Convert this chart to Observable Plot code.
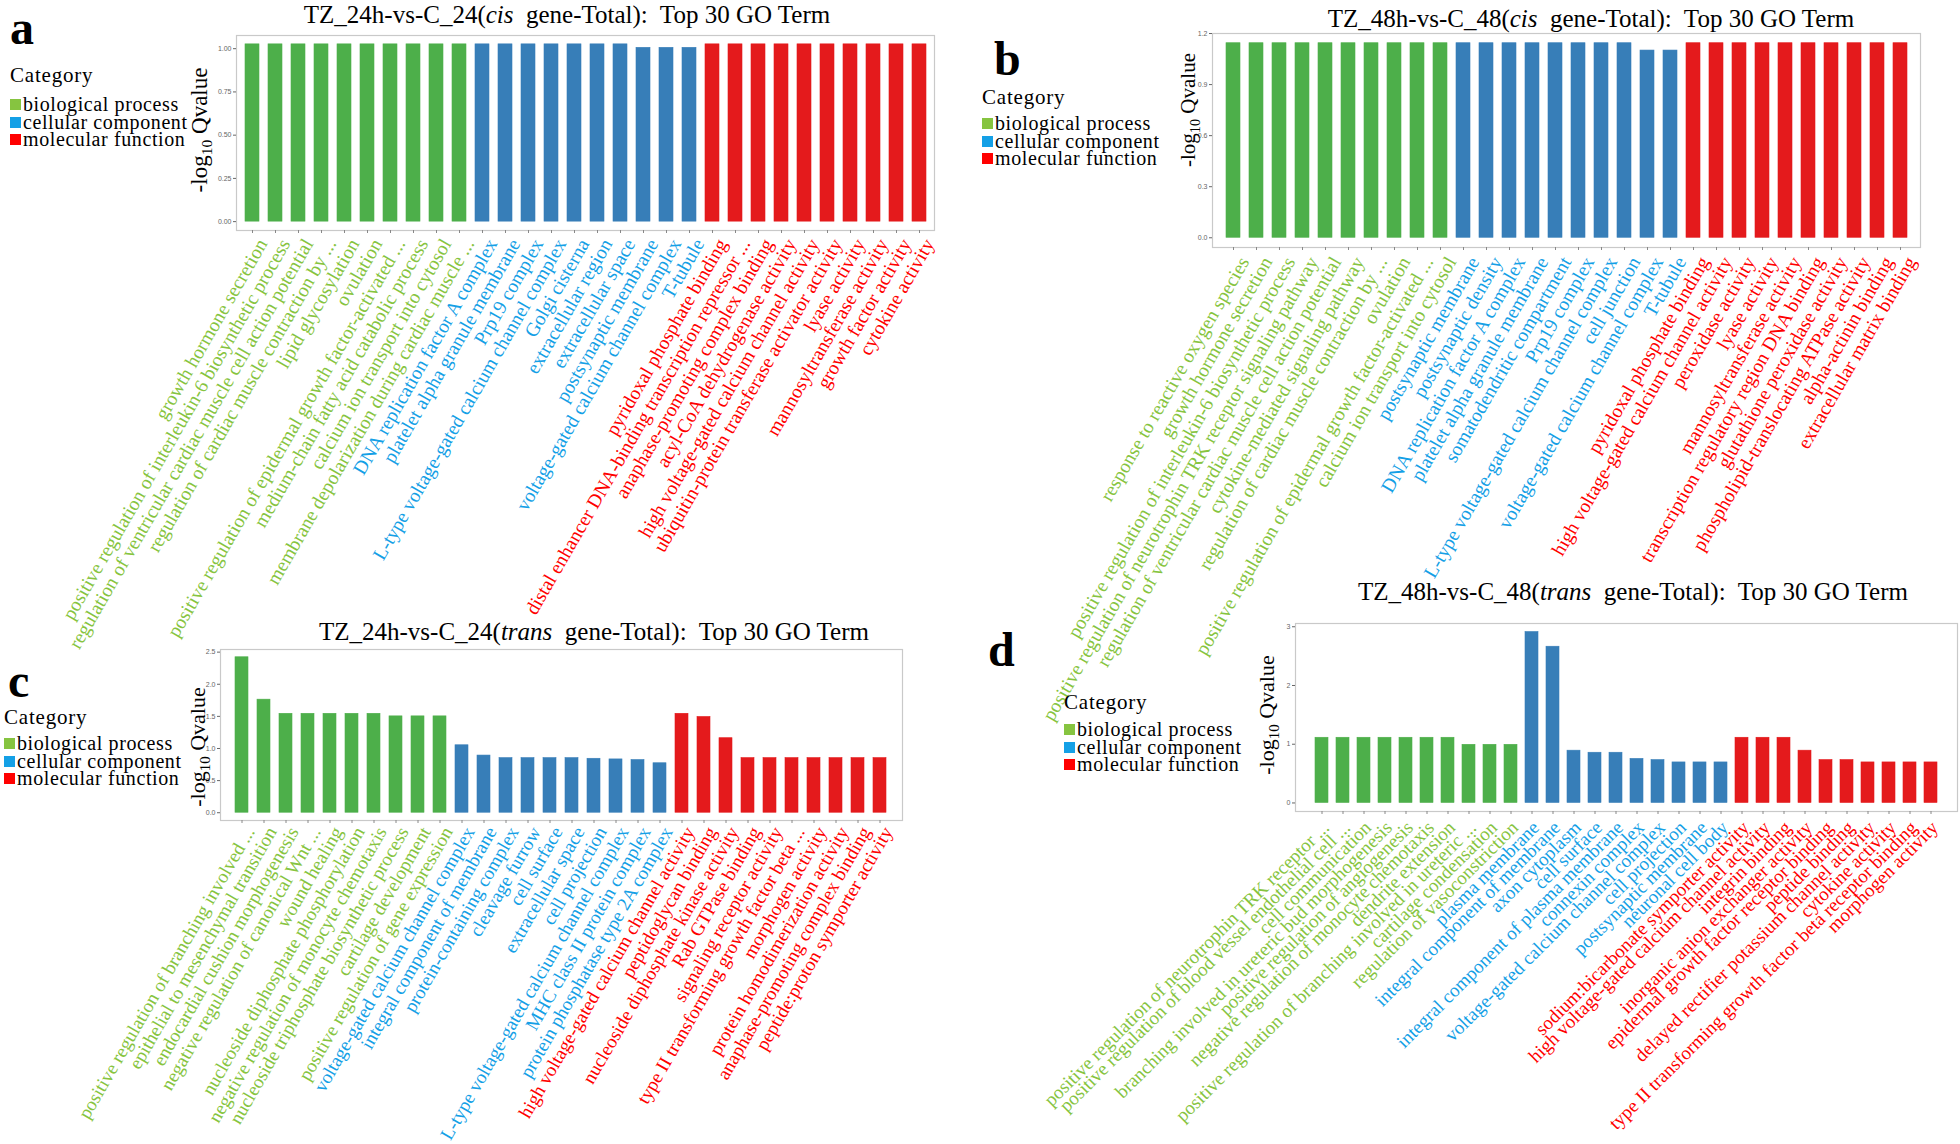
<!DOCTYPE html>
<html><head><meta charset="utf-8">
<script src="https://cdn.jsdelivr.net/npm/d3@7"></script>
<script src="https://cdn.jsdelivr.net/npm/@observablehq/plot@0.6"></script>
<style>
body{margin:0;background:#fff;}
#root{position:relative;width:1960px;height:1144px;overflow:hidden;background:#fff;}
</style></head>
<body><div id="root"></div>
<script>
// ---------- data ----------
const categories = ["biological process", "cellular component", "molecular function"];
const barColors = ["#4DAF4A", "#377EB8", "#E41A1C"];
const labelColors = ["#86C440", "#14A0E6", "#FF0000"];

// Panel a: TZ_24h-vs-C_24 (cis)
const a_bp = ["growth hormone secretion","positive regulation of interleukin-6 biosynthetic process","regulation of ventricular cardiac muscle cell action potential","regulation of cardiac muscle contraction by ...","lipid glycosylation","ovulation","positive regulation of epidermal growth factor-activated ...","medium-chain fatty acid catabolic process","calcium ion transport into cytosol","membrane depolarization during cardiac muscle ..."];
const a_cc = ["DNA replication factor A complex","platelet alpha granule membrane","Prp19 complex","L-type voltage-gated calcium channel complex","Golgi cisterna","extracellular region","extracellular space","postsynaptic membrane","voltage-gated calcium channel complex","T-tubule"];
const a_mf = ["pyridoxal phosphate binding","distal enhancer DNA-binding transcription repressor ...","anaphase-promoting complex binding","acyl-CoA dehydrogenase activity","high voltage-gated calcium channel activity","ubiquitin-protein transferase activator activity","lyase activity","mannosyltransferase activity","growth factor activity","cytokine activity"];
const a_bpV = [1.025,1.025,1.025,1.025,1.025,1.025,1.025,1.025,1.025,1.025];
const a_ccV = [1.025,1.025,1.025,1.025,1.025,1.025,1.025,1.005,1.005,1.005];
const a_mfV = [1.025,1.025,1.025,1.025,1.025,1.025,1.025,1.025,1.025,1.025];
const a_ticks = [0, 0.25, 0.5, 0.75, 1.0];

// Panel b: TZ_48h-vs-C_48 (cis)
const b_bp = ["response to reactive oxygen species","growth hormone secretion","positive regulation of interleukin-6 biosynthetic process","positive regulation of neurotrophin TRK receptor signaling pathway","regulation of ventricular cardiac muscle cell action potential","cytokine-mediated signaling pathway","regulation of cardiac muscle contraction by ...","ovulation","positive regulation of epidermal growth factor-activated ...","calcium ion transport into cytosol"];
const b_cc = ["postsynaptic membrane","postsynaptic density","DNA replication factor A complex","platelet alpha granule membrane","somatodendritic compartment","Prp19 complex","L-type voltage-gated calcium channel complex","cell junction","voltage-gated calcium channel complex","T-tubule"];
const b_mf = ["pyridoxal phosphate binding","high voltage-gated calcium channel activity","peroxidase activity","lyase activity","mannosyltransferase activity","transcription regulatory region DNA binding","glutathione peroxidase activity","phospholipid-translocating ATPase activity","alpha-actinin binding","extracellular matrix binding"];
const b_bpV = [1.143,1.143,1.143,1.143,1.143,1.143,1.143,1.143,1.143,1.143];
const b_ccV = [1.143,1.143,1.143,1.143,1.143,1.143,1.143,1.143,1.10,1.10];
const b_mfV = [1.143,1.143,1.143,1.143,1.143,1.143,1.143,1.143,1.143,1.143];
const b_ticks = [0, 0.3, 0.6, 0.9, 1.2];

// Panel c: TZ_24h-vs-C_24 (trans)
const c_bp = ["positive regulation of branching involved ...","epithelial to mesenchymal transition","endocardial cushion morphogenesis","negative regulation of canonical Wnt ...","wound healing","nucleoside diphosphate phosphorylation","negative regulation of monocyte chemotaxis","nucleoside triphosphate biosynthetic process","cartilage development","positive regulation of gene expression"];
const c_cc = ["voltage-gated calcium channel complex","integral component of membrane","protein-containing complex","cleavage furrow","cell surface","extracellular space","cell projection","L-type voltage-gated calcium channel complex","MHC class II protein complex","protein phosphatase type 2A complex"];
const c_mf = ["high voltage-gated calcium channel activity","peptidoglycan binding","nucleoside diphosphate kinase activity","Rab GTPase binding","signaling receptor activity","type II transforming growth factor beta ...","morphogen activity","protein homodimerization activity","anaphase-promoting complex binding","peptide:proton symporter activity"];
const c_bpV = [2.42,1.76,1.54,1.54,1.54,1.54,1.54,1.50,1.50,1.50];
const c_ccV = [1.05,0.89,0.85,0.85,0.85,0.85,0.84,0.83,0.82,0.77];
const c_mfV = [1.54,1.49,1.16,0.85,0.85,0.85,0.85,0.85,0.85,0.85];
const c_ticks = [0, 0.5, 1.0, 1.5, 2.0, 2.5];

// Panel d: TZ_48h-vs-C_48 (trans)
const d_bp = ["positive regulation of neurotrophin TRK receptor ...","positive regulation of blood vessel endothelial cell ...","cell communication","branching involved in ureteric bud morphogenesis","positive regulation of angiogenesis","negative regulation of monocyte chemotaxis","dendrite extension","positive regulation of branching involved in ureteric ...","cartilage condensation","regulation of vasoconstriction"];
const d_cc = ["plasma membrane","integral component of membrane","axon cytoplasm","cell surface","integral component of plasma membrane","connexin complex","voltage-gated calcium channel complex","cell projection","postsynaptic membrane","neuronal cell body"];
const d_mf = ["sodium:bicarbonate symporter activity","high voltage-gated calcium channel activity","integrin binding","inorganic anion exchanger activity","epidermal growth factor receptor binding","peptide binding","delayed rectifier potassium channel activity","cytokine activity","type II transforming growth factor beta receptor binding","morphogen activity"];
const d_bpV = [1.11,1.11,1.11,1.11,1.11,1.11,1.11,0.99,0.99,0.99];
const d_ccV = [2.91,2.66,0.89,0.855,0.855,0.75,0.73,0.69,0.69,0.69];
const d_mfV = [1.11,1.11,1.11,0.89,0.73,0.73,0.69,0.69,0.69,0.69];
const d_ticks = [0, 1, 2, 3];

const titles = [
  ["TZ_24h-vs-C_24(", "cis", "  gene-Total):  Top 30 GO Term"],
  ["TZ_48h-vs-C_48(", "cis", "  gene-Total):  Top 30 GO Term"],
  ["TZ_24h-vs-C_24(", "trans", "  gene-Total):  Top 30 GO Term"],
  ["TZ_48h-vs-C_48(", "trans", "  gene-Total):  Top 30 GO Term"]
];
const panelLetters = ["a", "b", "c", "d"];

// ---------- layout ----------
const W = 1960, H = 1144;
const root = document.getElementById("root");
const serif = "'Liberation Serif','Times New Roman',serif";

function buildTable(groups) {
  const rows = [];
  groups.forEach(([ci, terms, vals]) => terms.forEach((t, i) => rows.push({term: t, value: vals[i], cat: ci})));
  return rows;
}

function panel(cfg) {
  const data = buildTable(cfg.groups);
  const max = d3.max(data, d => d.value);
  const pad = max * 0.05;
  const [fl, fr, ft, fb] = cfg.frame;
  const svg = Plot.plot({
    width: W, height: H,
    marginLeft: fl, marginRight: W - fr, marginTop: ft, marginBottom: H - fb,
    style: {background: "transparent", position: "absolute", left: "0px", top: "0px", overflow: "visible", maxWidth: "none", fontFamily: "Arial, sans-serif"},
    x: {domain: data.map(d => d.term), paddingInner: 0.4, paddingOuter: 0.3},
    y: {domain: [-pad, max + pad]},
    color: {type: "identity"},
    marks: [
      Plot.barY(data, {x: "term", y: "value", fill: d => barColors[d.cat], stroke: d => barColors[d.cat], strokeWidth: 0.6}),
      Plot.frame({stroke: "#c9c9c9", strokeWidth: 1.2}),
      Plot.axisY({ticks: cfg.ticks, tickFormat: cfg.fmt, tickSize: 3, tickPadding: 2, fontSize: 7, color: "#666", label: null}),
      Plot.axisX({tickSize: 3, tickFormat: () => "", color: "#888", label: null}),
      Plot.text(data, {x: "term", frameAnchor: "bottom", text: "term", rotate: -cfg.angle, textAnchor: "end", lineAnchor: "middle",
        dx: cfg.dx, dy: cfg.dy, fill: d => labelColors[d.cat], fontSize: cfg.fs, fontFamily: serif})
    ]
  });
  root.appendChild(svg);
}

panel({groups: [[0, a_bp, a_bpV], [1, a_cc, a_ccV], [2, a_mf, a_mfV]], frame: [236, 934, 35, 230], ticks: a_ticks, fmt: d3.format(".2f"), angle: 60, dx: 10, dy: 10, fs: 19.5});
panel({groups: [[0, b_bp, b_bpV], [1, b_cc, b_ccV], [2, b_mf, b_mfV]], frame: [1212, 1920, 33, 247], ticks: b_ticks, fmt: d3.format(".1f"), angle: 60, dx: 11, dy: 11, fs: 19.5});
panel({groups: [[0, c_bp, c_bpV], [1, c_cc, c_ccV], [2, c_mf, c_mfV]], frame: [220, 902, 649, 820], ticks: c_ticks, fmt: d3.format(".1f"), angle: 60, dx: 8, dy: 8, fs: 19});
panel({groups: [[0, d_bp, d_bpV], [1, d_cc, d_ccV], [2, d_mf, d_mfV]], frame: [1295, 1957, 623, 811], ticks: d_ticks, fmt: d3.format("d"), angle: 45, dx: 4, dy: 13, fs: 19});

// ---------- annotations (titles, legends, letters, y titles) ----------
const ov = d3.select(root).append("svg")
  .attr("width", W).attr("height", H)
  .style("position", "absolute").style("left", "0px").style("top", "0px")
  .style("font-family", serif);

const titlePos = [[567, 23], [1591, 27], [594, 640], [1633, 600]];
titles.forEach((t, i) => {
  const tx = ov.append("text").attr("x", titlePos[i][0]).attr("y", titlePos[i][1])
    .attr("text-anchor", "middle").attr("font-size", 25).attr("fill", "#000")
    .style("white-space", "pre");
  tx.append("tspan").text(t[0]);
  tx.append("tspan").attr("font-style", "italic").text(t[1]);
  tx.append("tspan").text(t[2]);
});

const letterPos = [[10, 44], [994, 75], [8, 697], [988, 666]];
panelLetters.forEach((l, i) => {
  ov.append("text").attr("x", letterPos[i][0]).attr("y", letterPos[i][1])
    .attr("font-size", 48).attr("font-weight", "bold").attr("fill", "#000").text(l);
});

// legends: x of square, baseline of "Category", baselines of items
const legendPos = [
  {x: 10, head: 82, items: [111, 129, 146]},
  {x: 982, head: 104, items: [130, 148, 165]},
  {x: 4, head: 724, items: [750, 768, 785]},
  {x: 1064, head: 709, items: [736, 754, 771]}
];
legendPos.forEach(p => {
  ov.append("text").attr("x", p.x).attr("y", p.head).attr("font-size", 21)
    .attr("letter-spacing", 0.8).attr("fill", "#000").text("Category");
  categories.forEach((c, j) => {
    ov.append("rect").attr("x", p.x).attr("y", p.items[j] - 12).attr("width", 11).attr("height", 11).attr("fill", labelColors[j]);
    ov.append("text").attr("x", p.x + 13).attr("y", p.items[j]).attr("font-size", 20)
      .attr("letter-spacing", 0.6).attr("fill", "#000").text(c);
  });
});

const ytitlePos = [[207, 130, 23], [1195, 110, 21], [205, 747, 22], [1274, 715, 22]];
ytitlePos.forEach(([x, y, fs]) => {
  const t = ov.append("text").attr("transform", `translate(${x},${y}) rotate(-90)`)
    .attr("text-anchor", "middle").attr("font-size", fs).attr("fill", "#000");
  t.append("tspan").text("-log");
  t.append("tspan").attr("font-size", fs * 0.68).attr("dy", 5).text("10");
  t.append("tspan").attr("dy", -5).text(" Qvalue");
});
</script>
</body></html>
